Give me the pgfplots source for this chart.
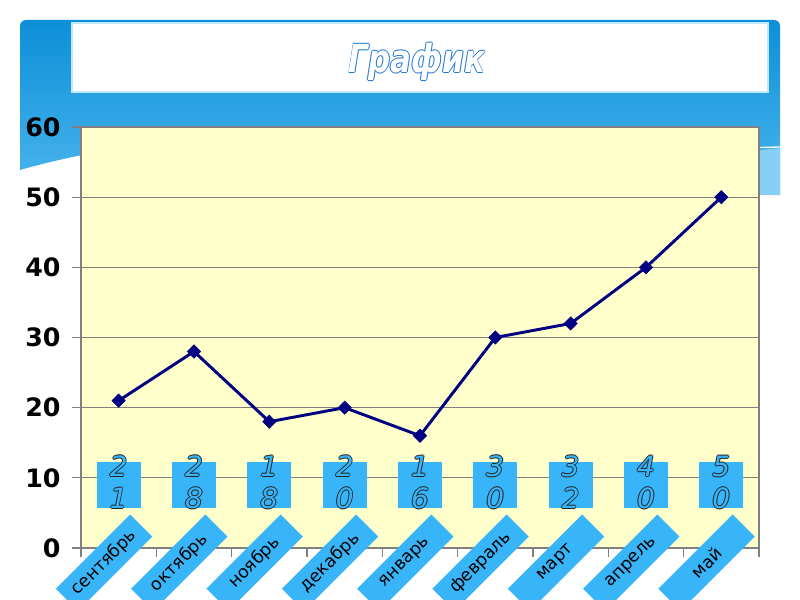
\documentclass[border=0pt]{standalone}
\usepackage{fontspec}
\setmainfont{DejaVu Sans}[ItalicFont={DejaVu Sans Oblique},BoldFont={DejaVu Sans Bold},BoldItalicFont={DejaVu Sans Bold Oblique}]
\usepackage{pgfplots}
\pgfplotsset{compat=1.18}
\definecolor{slidetop}{HTML}{0C8FD8}
\definecolor{slidelow}{HTML}{4DB6EE}
\definecolor{slidepale}{HTML}{86CFF5}
\definecolor{plotbg}{HTML}{FFFFCC}
\definecolor{lblue}{HTML}{38B4F8}
\definecolor{navyline}{HTML}{000080}
\definecolor{gridgray}{HTML}{808080}
\definecolor{titleblue}{HTML}{1E78D2}

% fake outlined text: copies shifted around, fill colour on top
\newlength\outw
\setlength\outw{.6pt}
\newcommand\outl[3]{\leavevmode
  \rlap{\kern-\outw\textcolor{#1}{#3}}%
  \rlap{\kern\outw\textcolor{#1}{#3}}%
  \rlap{\raisebox{\outw}{\textcolor{#1}{#3}}}%
  \rlap{\raisebox{-\outw}{\textcolor{#1}{#3}}}%
  \textcolor{#2}{#3}}
\def\twodig#1#2\relax{\outl{black!85}{lblue}{#1}\\\outl{black!85}{lblue}{#2}}

\begin{document}
\begin{tikzpicture}[x=0.75pt,y=0.75pt]
\useasboundingbox (0,0) rectangle (800,600);
\fill[white] (0,0) rectangle (800,600);
% slide decoration
\shade[top color=slidetop, bottom color=slidelow]
  (20,574) arc (180:90:6) -- (774,580) arc (90:0:6) -- (780,405)
  .. controls (560,470) and (250,495) .. (20,430) -- cycle;
\fill[slidepale] (780,452) .. controls (740,448) and (700,440) .. (660,430)
  -- (660,412) .. controls (700,410) and (740,404) .. (780,405) -- cycle;
\draw[white, line width=1pt] (700,451) -- (780,453);
\draw[cyan!25, line width=1.5pt, fill=white] (72,508) rectangle (768,577);
\setlength\outw{.8pt}
\node[font=\fontsize{29}{30}\selectfont\bfseries\itshape, xscale=0.8] at (417,538)
  {\outl{titleblue}{white}{График}};
\setlength\outw{.7pt}

\begin{axis}[
  at={(60.75pt,39pt)}, anchor=south west,
  scale only axis, width=508.5pt, height=315.75pt,
  xmin=-0.5, xmax=8.5, ymin=0, ymax=60,
  axis x line*=bottom, axis y line*=left,
  axis line style={gridgray, line width=0.8pt},
  axis background/.style={fill=plotbg},
  ytick={0,10,...,60},
  ymajorgrids, grid style={gridgray, line width=0.8pt},
  tick align=outside, major tick length=6.75pt,
  tick style={gridgray, line width=0.8pt},
  /pgf/number format/assume math mode=true,
  yticklabel style={font=\fontsize{19}{19}\selectfont\bfseries, black, xshift=-5pt},
  xtick={-0.5,0.5,...,8.5}, xticklabels={},
  extra x ticks={0,1,...,8},
  extra x tick labels={сентябрь,октябрь,ноябрь,декабрь,январь,февраль,март,апрель,май},
  extra x tick style={major tick length=0pt, grid=none,
    xticklabel style={font=\fontsize{13}{13}\selectfont, black, fill=lblue,
      inner sep=0pt, minimum width=78.75pt, minimum height=23.5pt,
      anchor=center, xshift=-11pt, yshift=-11pt, rotate=45}},
  clip=false,
  after end axis/.code={\draw[gridgray, line width=0.8pt] (rel axis cs:1,0) -- (rel axis cs:1,1);},
]
\addplot[draw=none, mark=none, point meta=explicit symbolic,
  nodes near coords={\edef\tmp{\pgfplotspointmeta}\expandafter\twodig\tmp\relax},
  every node near coord/.append style={anchor=center, align=center, fill=lblue,
    inner sep=0pt, minimum width=33pt, text height=35pt, text depth=-4pt,
    font=\fontsize{21}{24}\selectfont\itshape}]
  coordinates {(0,9)[21] (1,9)[28] (2,9)[18] (3,9)[20] (4,9)[16]
               (5,9)[30] (6,9)[32] (7,9)[40] (8,9)[50]};
\addplot[navyline, line width=2.2pt, mark=square*, mark size=3.5pt,
  mark options={rotate=45, fill=navyline, line width=0.5pt}]
  coordinates {(0,21) (1,28) (2,18) (3,20) (4,16) (5,30) (6,32) (7,40) (8,50)};
\end{axis}
\end{tikzpicture}
\end{document}
